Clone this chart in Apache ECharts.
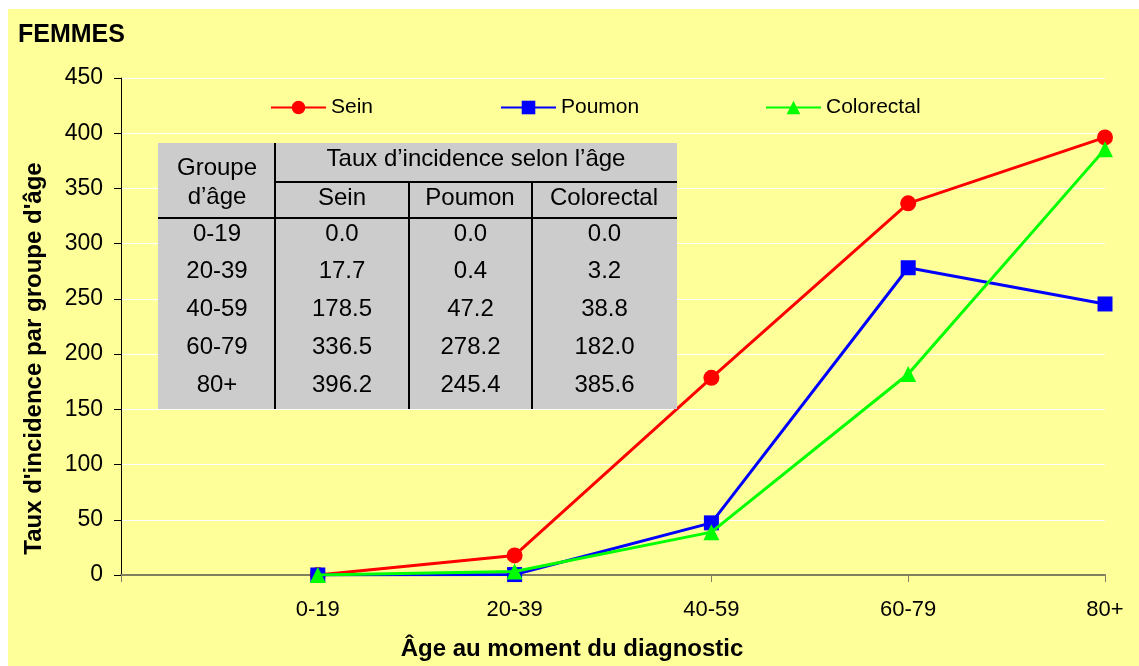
<!DOCTYPE html>
<html>
<head>
<meta charset="utf-8">
<script src="https://cdn.jsdelivr.net/npm/echarts@6/dist/echarts.min.js"></script>
<style>
  html, body { margin: 0; padding: 0; background: #fff; }
  #chart { width: 1139px; height: 666px; }
</style>
</head>
<body>
<div id="chart"></div>
<script>
const categories = ['', '0-19', '20-39', '40-59', '60-79', '80+']
const ageGroups = ['0-19', '20-39', '40-59', '60-79', '80+']
const sein = [0.0, 17.7, 178.5, 336.5, 396.2]
const poumon = [0.0, 0.4, 47.2, 278.2, 245.4]
const colorectal = [0.0, 3.2, 38.8, 182.0, 385.6]
const yTicks = [0, 50, 100, 150, 200, 250, 300, 350, 400, 450]

const font = '"Liberation Sans", Arial, sans-serif'
const chart = echarts.init(document.getElementById('chart'))

// table overlay built from the same arrays
function buildTable() {
  const x0 = 158, x1 = 677, y0 = 143, y1 = 409
  const cols = [158, 275, 409, 532, 677]
  const rowY = [234, 271, 309, 347, 385]
  const els = []
  els.push({ type: 'rect', shape: { x: x0, y: y0, width: x1 - x0, height: y1 - y0 }, style: { fill: '#CCCCCC' } })
  const line = (xa, ya, xb, yb) => els.push({ type: 'line', shape: { x1: xa, y1: ya, x2: xb, y2: yb }, style: { stroke: '#000', lineWidth: 2 } })
  line(275, y0, 275, y1)
  line(275, 182, x1, 182)
  line(x0, 218, x1, 218)
  line(409, 182, 409, y1)
  line(532, 182, 532, y1)
  const txt = (t, cx, cy) => els.push({ type: 'text', x: cx, y: cy, style: { text: t, fill: '#000', font: '24px ' + font, align: 'center', verticalAlign: 'middle' } })
  txt('Groupe', 217, 168)
  txt('d\u2019âge', 217, 197)
  txt('Taux d\u2019incidence selon l\u2019âge', 476, 159)
  txt('Sein', 342, 198)
  txt('Poumon', 470, 198)
  txt('Colorectal', 604, 198)
  const series = [sein, poumon, colorectal]
  ageGroups.forEach((g, i) => {
    txt(g, 217, rowY[i])
    series.forEach((s, j) => txt(s[i].toFixed(1), (cols[j + 1] + cols[j + 2]) / 2, rowY[i]))
  })
  return els
}

const pad = arr => [null].concat(arr)
const legendText = { fontFamily: font, fontSize: 21, color: '#000' }
const legendBase = { top: 97, padding: 0, itemWidth: 55, itemHeight: 17, itemGap: 4, textStyle: legendText }

const option = {
  backgroundColor: '#fff',
  animation: false,
  graphic: [
    { type: 'rect', shape: { x: 8, y: 9, width: 1131, height: 657 }, style: { fill: '#FFFF99' }, z: -10 },
    { type: 'text', x: 18, y: 23, style: { text: 'FEMMES', font: 'bold 25px ' + font, fill: '#000' } },
    ...buildTable().map(e => Object.assign(e, { z: 100 }))
  ],
  grid: { left: 121, right: 34, top: 78, bottom: 91 },
  legend: [
    Object.assign({ data: ['Sein'], left: 270 }, legendBase),
    Object.assign({ data: ['Poumon'], left: 500 }, legendBase),
    Object.assign({ data: ['Colorectal'], left: 765 }, legendBase)
  ],
  xAxis: {
    type: 'category',
    data: categories,
    boundaryGap: false,
    name: 'Âge au moment du diagnostic',
    nameLocation: 'middle',
    nameGap: 62,
    nameTextStyle: { fontFamily: font, fontSize: 24, fontWeight: 'bold', color: '#000', padding: [0, 82, 0, 0] },
    axisLine: { lineStyle: { color: '#808060', width: 2 } },
    axisTick: { show: true, alignWithLabel: true, length: 7, lineStyle: { color: '#808060' } },
    axisLabel: { fontFamily: font, fontSize: 22, color: '#000', margin: 24 },
    splitLine: { show: false }
  },
  yAxis: {
    type: 'value',
    min: 0,
    max: 450,
    interval: 50,
    name: "Taux d'incidence par groupe d'âge",
    nameLocation: 'middle',
    nameGap: 75,
    nameTextStyle: { fontFamily: font, fontSize: 24, fontWeight: 'bold', color: '#000', padding: [0, 64, 0, 0] },
    axisLine: { show: true, lineStyle: { color: '#000', width: 1 } },
    axisTick: { show: true, length: 7, lineStyle: { color: '#000' } },
    axisLabel: { fontFamily: font, fontSize: 23, color: '#000', margin: 18, formatter: v => yTicks.includes(v) ? String(v) : '' },
    splitLine: { show: true, lineStyle: { color: '#FFFFFF', width: 1 } }
  },
  series: [
    { name: 'Sein', type: 'line', data: pad(sein), symbol: 'circle', symbolSize: 16, color: '#FF0000', lineStyle: { width: 3 }, z: 3 },
    { name: 'Poumon', type: 'line', data: pad(poumon), symbol: 'rect', symbolSize: 15, color: '#0000FF', lineStyle: { width: 3 }, z: 4 },
    { name: 'Colorectal', type: 'line', data: pad(colorectal), symbol: 'triangle', symbolSize: 16, color: '#00FF00', lineStyle: { width: 3 }, z: 5 }
  ]
}

chart.setOption(option)
</script>
</body>
</html>
